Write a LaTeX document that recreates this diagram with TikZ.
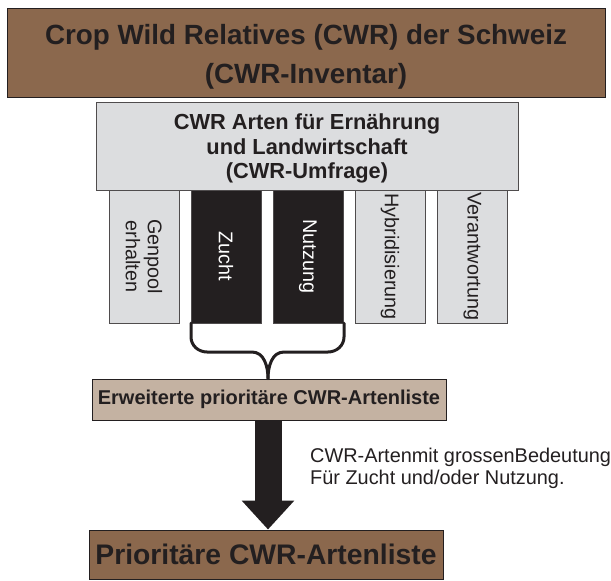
\documentclass[tikz,border=0pt]{standalone}
\usepackage{fontspec}
\setmainfont{Liberation Sans}
\usetikzlibrary{arrows.meta,calc}
\definecolor{brownbox}{RGB}{139,104,77}
\definecolor{tanbox}{RGB}{196,178,162}
\definecolor{graybox}{RGB}{220,221,223}
\definecolor{ink}{RGB}{35,31,32}
\begin{document}
\begin{tikzpicture}[x=1pt,y=-1pt,
  box/.style={draw=ink,line width=1pt,inner sep=0pt,align=center,text=ink},
  txt/.style={inner sep=0pt,align=center,text=ink},
  topbox/.style={box,fill=brownbox,minimum width=598pt,minimum height=89pt},
  toptext/.style={txt,font=\fontsize{27.8}{39}\selectfont\bfseries,yshift=-4pt},
  surveybox/.style={box,fill=graybox,draw=ink!80,minimum width=422pt,minimum height=88pt},
  surveytext/.style={txt,font=\fontsize{21.8}{24.5}\selectfont\bfseries,yshift=-2.5pt},
  colbox/.style={box,draw=ink!80,fill=graybox,minimum width=133pt,minimum height=70pt,
     font=\fontsize{19.8}{22}\selectfont,rotate=-90},
  darkcol/.style={colbox,fill=ink,text=white},
  midbox/.style={box,fill=tanbox,minimum width=354pt,minimum height=41pt,
     font=\fontsize{20}{22}\selectfont\bfseries},
  botbox/.style={box,fill=brownbox,minimum width=354pt,minimum height=49pt,
     font=\fontsize{28.3}{32}\selectfont\bfseries},
  bracepath/.style={draw=ink,line width=3pt,line cap=round,line join=round},
  bigarrow/.style={draw=ink,line width=27pt,-{Triangle[length=29pt,width=51pt]}},
  note/.style={inner sep=0pt,align=left,text=ink,font=\fontsize{19.9}{22}\selectfont}
]
\useasboundingbox (0,0) rectangle (611,581);

\node[topbox,label={[toptext,name=toplbl]center:Crop Wild Relatives (CWR) der Schweiz\\(CWR-Inventar)}] (top) at (306,52.5) {};

\node[colbox]  (gen) at (144,256.5) {Genpool\\erhalten};
\node[darkcol] (zu)  at (226,256.5) {Zucht};
\node[darkcol] (nu)  at (308,256.5) {Nutzung};
\node[colbox]  (hy)  at (390,256.5) {Hybridisierung};
\node[colbox]  (ve)  at (472.5,256.5) {Verantwortung};

\node[surveybox,label={[surveytext,name=surveylbl]center:CWR Arten für Ernährung\\und Landwirtschaft\\(CWR-Umfrage)}] (survey) at (307,146) {};

\node[midbox] (mid) at (269,399.5) {Erweiterte prioritäre CWR-Artenliste};
\node[botbox] (bot) at (266,554.5) {Prioritäre CWR-Artenliste};

\coordinate (tipx) at (268,0);
\coordinate (bl) at ($(zu.center)+(-35,66.5)$);
\coordinate (br) at ($(nu.center)+(36,66.5)$);
\draw[bracepath] (bl) -- ++(0,14) to[out=-90,in=180] ++(16,15) -- (252,352)
   to[out=0,in=90] (mid.north -| tipx);
\draw[bracepath] (br) -- ++(0,14) to[out=-90,in=0] ++(-16,15) -- (284,352)
   to[out=180,in=90] (mid.north -| tipx);

\draw[bigarrow] (mid.south -| tipx) -- (bot.north -| tipx);

\node[note,anchor=west] (lbl) at (310,468) {CWR-Artenmit grossenBedeutung\\Für Zucht und/oder Nutzung.};
\end{tikzpicture}
\end{document}
